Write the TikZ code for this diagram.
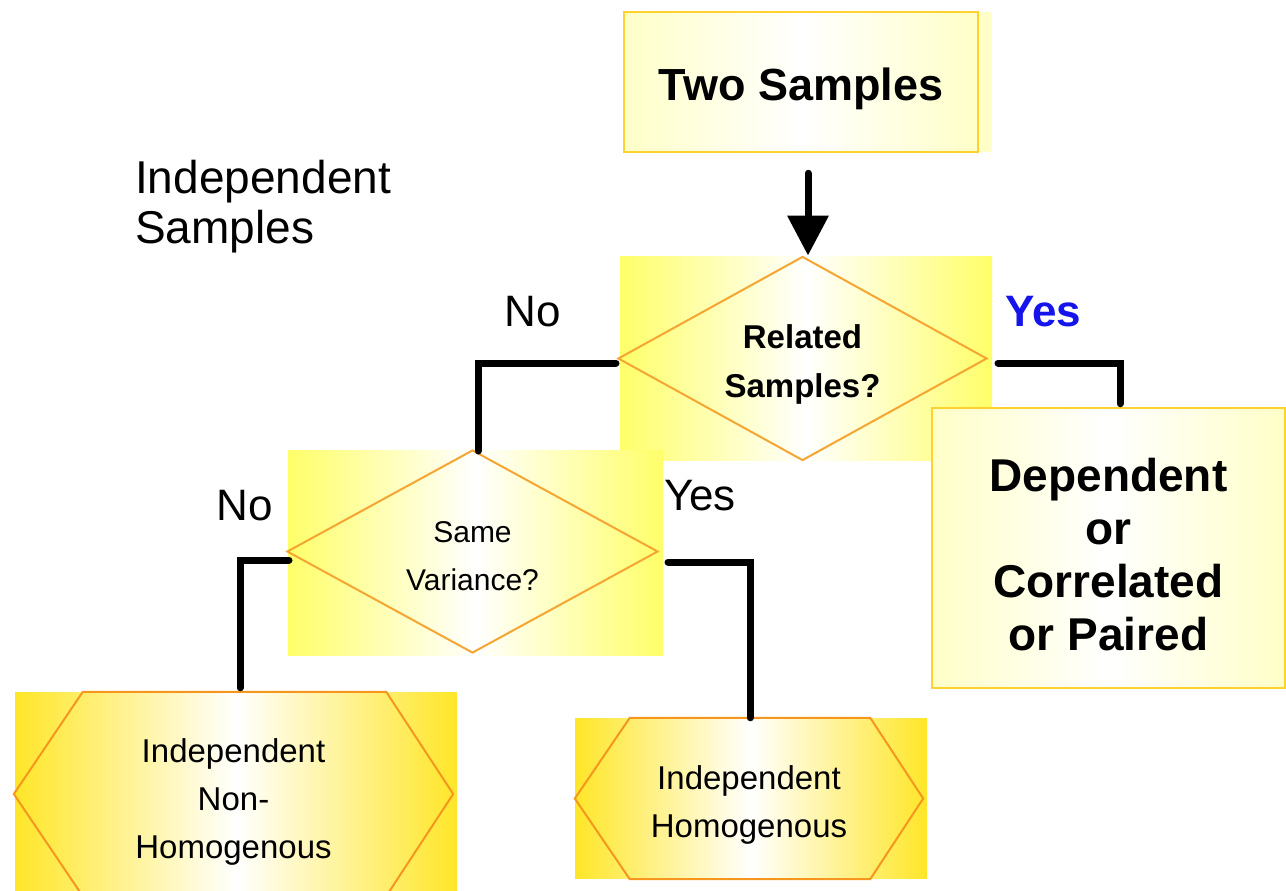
\documentclass[tikz,border=0pt]{standalone}
\usepackage{fontspec}
\setmainfont{Liberation Sans}
\usetikzlibrary{shapes.geometric,arrows.meta,calc}
\definecolor{boxgold}{RGB}{255,210,50}
\definecolor{paleyellow}{RGB}{255,255,200}
\definecolor{dorange}{RGB}{245,165,50}
\definecolor{hexorange}{RGB}{245,150,30}
\definecolor{diabg}{RGB}{255,255,105}
\definecolor{hexbg}{RGB}{255,230,40}
\definecolor{yesblue}{RGB}{20,20,235}
\tikzset{
  conn/.style={line width=7pt, line cap=round},
  decision/.style={diamond, draw=dorange, line width=2pt, inner sep=0pt, shape aspect=1.8},
  termbox/.style={rectangle, draw=boxgold, line width=2.5pt, inner sep=0pt,
                  left color=paleyellow, right color=paleyellow, middle color=white},
  hexnode/.style={rectangle, inner sep=0pt},
  hexline/.style={draw=hexorange, line width=2pt},
  txt/.style={inner sep=0pt, align=center},
  lbl/.style={inner sep=0pt, font=\fontsize{44}{50}\selectfont},
}
\begin{document}
\begin{tikzpicture}[x=1pt,y=-1pt]
\useasboundingbox (0,0) rectangle (1286,891);

% background panels
\fill[paleyellow] (624,12) rectangle (992,152);
\shade[left color=diabg, right color=diabg, middle color=white] (620,256) rectangle (992,460);
\shade[left color=diabg, right color=diabg, middle color=white] (288,450) rectangle (663,655);
\shade[left color=hexbg, right color=hexbg, middle color=white] (15,692) rectangle (457,891);
\shade[left color=hexbg, right color=hexbg, middle color=white] (575,718) rectangle (927,878);

% shapes
\node[termbox, minimum width=354pt, minimum height=140pt] (two) at (801,82) {};
\node[decision, minimum width=369pt, minimum height=204pt] (rel) at (802.5,358.5) {};
\node[termbox, minimum width=353pt, minimum height=280pt] (dep) at (1108.5,548) {};
\node[decision, minimum width=371pt, minimum height=203pt] (var) at (472.5,551.5) {};
\node[hexnode, minimum width=439pt, minimum height=204pt] (h1) at (233.5,794) {};
\draw[hexline] ($(h1.north west)+(69,0)$) -- ($(h1.north east)+(-67,0)$) -- (h1.east)
  -- ($(h1.south east)+(-67,0)$) -- ($(h1.south west)+(69,0)$) -- (h1.west) -- cycle;
\node[hexnode, minimum width=348pt, minimum height=161pt] (h2) at (749,798.5) {};
\draw[hexline] ($(h2.north west)+(55,0)$) -- ($(h2.north east)+(-53,0)$) -- (h2.east)
  -- ($(h2.south east)+(-53,0)$) -- ($(h2.south west)+(55,0)$) -- (h2.west) -- cycle;

% texts
\node[txt, font=\bfseries\fontsize{45}{50}\selectfont] (twoT) at ([yshift=-7pt]two.center) {Two Samples};
\node[txt, font=\bfseries\fontsize{33}{49}\selectfont] (relT) at ([yshift=-6pt]rel.center) {Related\\Samples?};
\node[txt, font=\bfseries\fontsize{46}{53}\selectfont] (depT) at ([yshift=-7pt]dep.center) {Dependent\\or\\Correlated\\or Paired};
\node[txt, font=\fontsize{30}{48}\selectfont] (varT) at ([yshift=-4.5pt]var.center) {Same\\Variance?};
\node[txt, font=\fontsize{33}{48}\selectfont] (h1T) at ([yshift=-8pt]h1.center) {Independent\\Non-\\Homogenous};
\node[txt, font=\fontsize{33}{48}\selectfont] (h2T) at ([yshift=-6pt]h2.center) {Independent\\Homogenous};

% labels
\node[inner sep=0pt, align=left, anchor=north west, font=\fontsize{46}{50}\selectfont]
  (indep) at (135,160) {Independent\\Samples};
\node[lbl] (no1) at (533,312) {No};
\node[lbl, text=yesblue, font=\bfseries\fontsize{44}{50}\selectfont] (yes1) at (1043,312) {Yes};
\node[lbl] (yes2) at (700,496) {Yes};
\node[lbl] (no2) at (245,506) {No};

% connectors
\draw[conn, -{Triangle[width=40pt,length=40pt]}] ([xshift=7pt,yshift=-20pt]two.south) -- ([xshift=5.5pt]rel.north);
\draw[conn] ([xshift=-1pt,yshift=-4.5pt]rel.west) -| ([xshift=5.5pt,yshift=-2pt]var.north);
\draw[conn] ([xshift=10pt,yshift=-4.5pt]rel.east) -| ([xshift=11.5pt,yshift=3pt]dep.north);
\draw[conn] ([xshift=3pt,yshift=-8.5pt]var.west) -| ([xshift=6.5pt,yshift=4pt]h1.north);
\draw[conn] ([xshift=9pt,yshift=-10.5pt]var.east) -| ([xshift=1pt]h2.north);
\end{tikzpicture}
\end{document}
